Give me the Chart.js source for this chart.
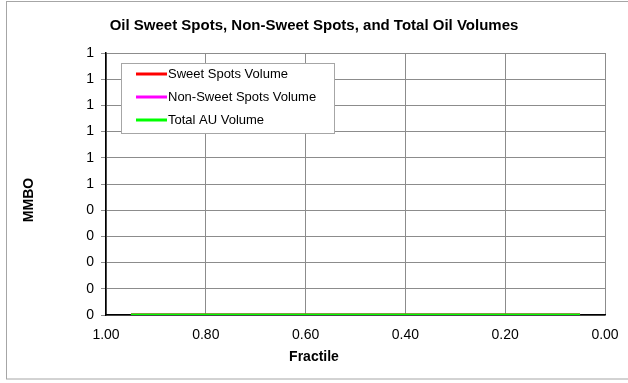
<!DOCTYPE html>
<html>
<head>
<meta charset="utf-8">
<script src="https://cdn.jsdelivr.net/npm/chart.js@4"></script>
<style>
  html, body { margin: 0; padding: 0; background: #fff; }
  #wrap { width: 628px; height: 383px; }
</style>
</head>
<body>
<div id="wrap"><canvas id="oil-chart" width="628" height="383"></canvas></div>
<script>
// fractile positions and volumes (MMBO)
const fractiles = [0.95, 0.5, 0.05];
const sweetSpots = [0, 0, 0];
const nonSweetSpots = [0, 0, 0];
const totalAU = [0, 0, 0];
const seriesNames = ["Sweet Spots Volume", "Non-Sweet Spots Volume", "Total AU Volume"];
const seriesColors = ["#ff0000", "#ff00ff", "#00ff00"];
const xTitle = "Fractile";
const yTitle = "MMBO";

const toPoints = (vals) => vals.map((v, i) => ({ x: fractiles[i], y: v }));
const font = "'Liberation Sans', Arial, sans-serif";

// outer frame + axis titles placed like the spreadsheet chart
const framePlugin = {
  id: "frame",
  afterDraw(chart) {
    const ctx = chart.ctx;
    ctx.save();
    ctx.strokeStyle = "#a6a6a6";
    ctx.lineWidth = 1;
    ctx.strokeRect(6.5, 1.5, 640, 377.5);
    ctx.fillStyle = "#000";
    ctx.font = "bold 14px " + font;
    ctx.textAlign = "center";
    ctx.textBaseline = "middle";
    ctx.fillText(xTitle, 314, 357);
    ctx.translate(29, 200);
    ctx.rotate(-Math.PI / 2);
    ctx.fillText(yTitle, 0, 0);
    ctx.restore();
  }
};

// boxed legend sitting inside the plot area
const boxLegend = {
  id: "boxLegend",
  afterDatasetsDraw(chart) {
    const ctx = chart.ctx;
    ctx.save();
    ctx.fillStyle = "#fff";
    ctx.fillRect(121, 63, 213, 70);
    ctx.strokeStyle = "#a6a6a6";
    ctx.lineWidth = 1;
    ctx.strokeRect(121.5, 63.5, 213, 70);
    ctx.font = "13px " + font;
    ctx.textBaseline = "middle";
    chart.data.datasets.forEach((ds, i) => {
      const y = 74 + i * 23;
      ctx.strokeStyle = ds.borderColor;
      ctx.lineWidth = 3;
      ctx.beginPath();
      ctx.moveTo(136, y);
      ctx.lineTo(167, y);
      ctx.stroke();
      ctx.fillStyle = "#000";
      ctx.fillText(ds.label, 168, y);
    });
    ctx.restore();
  }
};

new Chart("oil-chart", {
  type: "line",
  data: {
    datasets: [
      { label: seriesNames[0], data: toPoints(sweetSpots), borderColor: seriesColors[0] },
      { label: seriesNames[1], data: toPoints(nonSweetSpots), borderColor: seriesColors[1] },
      { label: seriesNames[2], data: toPoints(totalAU), borderColor: seriesColors[2], order: -1 }
    ].map((d) => Object.assign(d, { borderWidth: 3, pointRadius: 0, fill: false, tension: 0 }))
  },
  options: {
    responsive: false,
    animation: false,
    layout: { padding: 0 },
    plugins: {
      legend: { display: false },
      tooltip: { enabled: false },
      title: {
        display: true,
        text: "Oil Sweet Spots, Non-Sweet Spots, and Total Oil Volumes",
        color: "#000",
        font: { family: font, size: 15, weight: "bold" },
        padding: { top: 17, bottom: 18 }
      }
    },
    scales: {
      x: {
        type: "linear",
        reverse: true,
        min: 0,
        max: 1,
        ticks: {
          stepSize: 0.2,
          color: "#000",
          padding: 12,
          font: { family: font, size: 14 },
          callback: (v) => v.toFixed(2)
        },
        grid: { color: "#8c8c8c", lineWidth: 1, drawTicks: false },
        border: { color: "#000", width: 1.5 },
        afterFit: (s) => {
          s.height = 68;
          s.paddingLeft = 0;
          s.paddingRight = 0;
        }
      },
      y: {
        min: 0,
        max: 1,
        ticks: {
          stepSize: 0.1,
          color: "#000",
          padding: 7,
          font: { family: font, size: 14 },
          callback: (v) => String(Math.round(v + 1e-9))
        },
        grid: { color: "#8c8c8c", lineWidth: 1, tickLength: 5 },
        border: { color: "#000", width: 1.5 },
        afterFit: (s) => { s.width = 106; }
      },
      // empty right-hand spacer so the plot stops short of the edge
      spacer: {
        position: "right",
        ticks: { display: false },
        grid: { display: false },
        border: { display: false },
        afterFit: (s) => { s.width = 23; }
      }
    }
  },
  plugins: [framePlugin, boxLegend]
});
</script>
</body>
</html>
